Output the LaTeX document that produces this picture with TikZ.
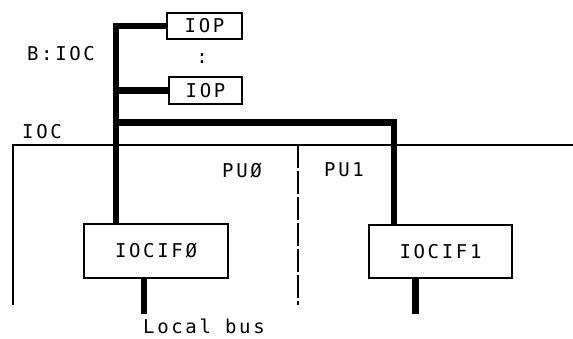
\documentclass[tikz,border=0pt]{standalone}
\usepackage{fontspec}
\newfontfamily\dmono[LetterSpace=14]{DejaVu Sans Mono}
\begin{document}
\begin{tikzpicture}[x=1pt,y=-1pt,
  thin/.style={line width=1.2pt},
  bus/.style={line width=6.5pt, line join=miter},
  boxnode/.style={draw, line width=1.2pt, inner sep=0pt, font=\dmono\fontsize{19}{19}\selectfont},
  lbl/.style={inner sep=0pt, font=\dmono\fontsize{19}{19}\selectfont}]
\useasboundingbox (0,0) rectangle (573,338);
% boxes
\node[boxnode, minimum width=75pt, minimum height=26pt] (iop1) at (204.5,26) {IOP};
\node[boxnode, minimum width=73pt, minimum height=27pt] (iop2) at (205.5,90.5) {IOP};
\node[boxnode, minimum width=144pt, minimum height=54pt] (iocif0) at (156,251) {IOCIFØ};
\node[boxnode, minimum width=143pt, minimum height=53pt] (iocif1) at (440.5,251.5) {IOCIF1};
% labels
\node[lbl] (colon) at (202,59) {:};
\node[lbl] (bioc) at (61,54) {B:IOC};
\node[lbl] (ioc) at (42,132) {IOC};
\node[lbl] (pu0) at (242,171) {PUØ};
\node[lbl] (pu1) at (344,170) {PU1};
\node[lbl] (lbus) at (204,326) {Local bus};
% frame
\coordinate (fbl) at (13,305);
\coordinate (ftl) at (13,145);
\coordinate (ftr) at (573,145);
\coordinate (dtop) at (298,145);
\coordinate (dbot) at (298,305);
\draw[thin] (fbl) -- (ftl) -- (ftr);
\draw[thin, dash pattern=on 23pt off 3pt] (dtop) -- (dbot);
% bus
\coordinate (btop) at (116,26);
\coordinate (bmid) at (116,90.5);
\coordinate (bh) at (116,122.5);
\coordinate (bcorner) at (394,122.5);
\coordinate (lb0) at (144,314);
\coordinate (lb1) at (415.5,314);
\draw[bus] (iop1.west) -- (btop) -- (btop |- iocif0.north);
\draw[bus] (iop2.west) -- (bmid);
\draw[bus] (bh) -- (bcorner) -- (bcorner |- iocif1.north);
\draw[bus] (lb0 |- iocif0.south) -- (lb0);
\draw[bus] (lb1 |- iocif1.south) -- (lb1);
\end{tikzpicture}
\end{document}
